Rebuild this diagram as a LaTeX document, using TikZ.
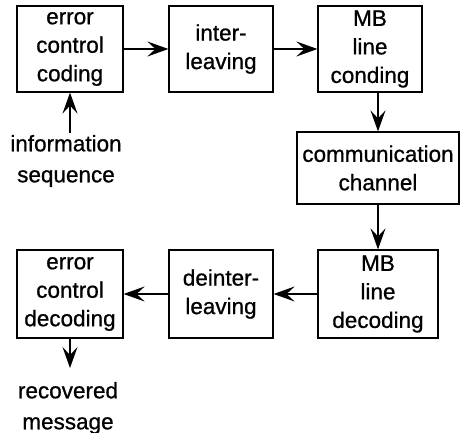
\documentclass[tikz,border=0pt]{standalone}
\usepackage{fontspec}
\setmainfont{Liberation Sans}[FakeBold=0.8]
\usetikzlibrary{arrows.meta}
\begin{document}
\begin{tikzpicture}[x=1pt,y=-1pt,
  blk/.style={draw, line width=1.2pt, inner sep=0pt, align=center,
    font=\fontsize{22.5}{28.5}\selectfont},
  lbl/.style={inner sep=0pt, align=center, font=\fontsize{22.5}{31}\selectfont},
  conn/.style={line width=1.2pt, -{Stealth[length=21pt,width=15pt,inset=8pt]}}]
\useasboundingbox (0,0) rectangle (461,433);
\node[blk, minimum width=106pt, minimum height=86pt] (b1) at (70,49) {error\\control\\coding};
\node[blk, minimum width=104pt, minimum height=86pt] (b2) at (221,49) {inter-\\leaving};
\node[blk, minimum width=104pt, minimum height=86pt] (b3) at (370,49) {MB\\line\\conding};
\node[blk, minimum width=162pt, minimum height=72pt] (b4) at (378,168) {communication\\channel};
\node[blk, minimum width=120pt, minimum height=88pt] (b5) at (378,294) {MB\\line\\decoding};
\node[blk, minimum width=104pt, minimum height=88pt] (b6) at (221,294) {deinter-\\leaving};
\node[blk, minimum width=106pt, minimum height=88pt] (b7) at (70,294) {error\\control\\decoding};
\node[lbl] (info) at (66,161) {information\\sequence};
\node[lbl] (rec) at (68,408) {recovered\\message};
\coordinate (i0) at (70,133);
\coordinate (r1) at (70,368);
\draw[conn] (b1) -- (b2);
\draw[conn] (b2) -- (b3);
\draw[conn] (b4.north |- b3.south) -- (b4.north);
\draw[conn] (b4.south) -- (b4.south |- b5.north);
\draw[conn] (b5) -- (b6);
\draw[conn] (b6) -- (b7);
\draw[conn] (i0) -- (i0 |- b1.south);
\draw[conn] (r1 |- b7.south) -- (r1);
\end{tikzpicture}
\end{document}
